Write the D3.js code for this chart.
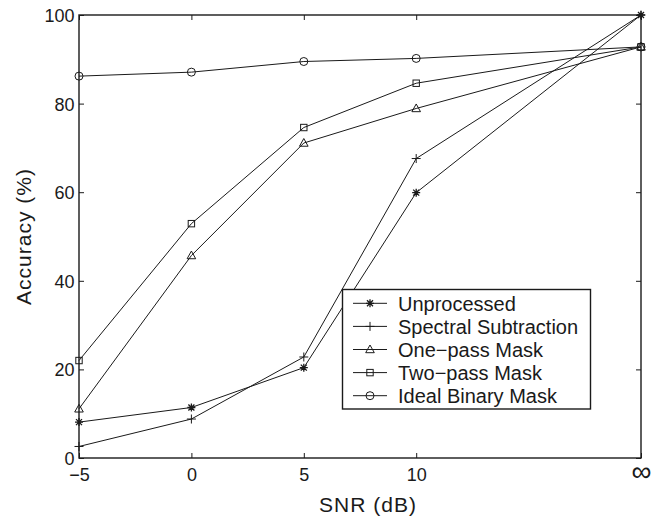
<!DOCTYPE html>
<html><head><meta charset="utf-8">
<script src="https://cdn.jsdelivr.net/npm/d3@7"></script>
<style>html,body{margin:0;padding:0;background:#fff;}svg{display:block;font-family:"Liberation Sans",Arial,Helvetica,sans-serif;}</style>
</head><body>
<svg id="chart" width="654" height="518"></svg>
<script>
// x positions: -5, 0, 5, 10, and "infinity" placed at 20
const snrValues = [-5, 0, 5, 10, 20];
const xTickLabels = ["\u22125", "0", "5", "10", "\u221E"];
const yTicks = [0, 20, 40, 60, 80, 100];
const seriesNames = ["Unprocessed", "Spectral Subtraction", "One\u2212pass Mask", "Two\u2212pass Mask", "Ideal Binary Mask"];
const seriesMarkers = ["star", "plus", "triangle", "square", "circle"];
const unprocessed = [8.1, 11.4, 20.4, 59.9, 100];
const spectralSubtraction = [2.6, 8.8, 22.8, 67.6, 100];
const onePassMask = [11.1, 45.7, 71.1, 78.9, 92.8];
const twoPassMask = [22.0, 52.9, 74.6, 84.6, 92.8];
const idealBinaryMask = [86.2, 87.1, 89.5, 90.2, 92.8];
const allSeries = [unprocessed, spectralSubtraction, onePassMask, twoPassMask, idealBinaryMask];

const svg = d3.select("#chart");
const L = 79, R = 641, T = 15, B = 458;
const x = d3.scaleLinear().domain([-5, 20]).range([L, R]);
const y = d3.scaleLinear().domain([0, 100]).range([B, T]);
const ink = "#1a1a1a";

// axes box
svg.append("rect").attr("x", L).attr("y", T).attr("width", R - L).attr("height", B - T)
  .attr("fill", "none").attr("stroke", ink).attr("stroke-width", 1.4);

const tickLen = 5;
const fmtX = (d, i) => xTickLabels[i];
const gB = svg.append("g").attr("transform", `translate(0,${B})`)
  .call(d3.axisBottom(x).tickValues(snrValues).tickFormat(fmtX).tickSizeInner(-tickLen).tickSizeOuter(0).tickPadding(10));
const gT = svg.append("g").attr("transform", `translate(0,${T})`)
  .call(d3.axisTop(x).tickValues(snrValues).tickFormat("").tickSizeInner(-tickLen).tickSizeOuter(0));
const gL = svg.append("g").attr("transform", `translate(${L},0)`)
  .call(d3.axisLeft(y).tickValues(yTicks).tickSizeInner(-tickLen).tickSizeOuter(0).tickPadding(4.5));
const gR = svg.append("g").attr("transform", `translate(${R},0)`)
  .call(d3.axisRight(y).tickValues(yTicks).tickFormat("").tickSizeInner(-tickLen).tickSizeOuter(0));
[gB, gT, gL, gR].forEach(g => {
  g.select(".domain").remove();
  g.selectAll("line").attr("stroke", ink).attr("stroke-width", 1);
  g.selectAll("text").attr("fill", ink).style("font-size", "18px").style("font-family", '"Liberation Sans",Arial,sans-serif');
});
gL.selectAll("text").attr("dy", "0.36em");
gB.selectAll("text").attr("dy", "0.72em");
gB.selectAll(".tick").filter(d => d === 20).select("text").style("font-size", "28px").attr("dy", "13.4");

// axis labels
svg.append("text").attr("x", 368).attr("y", 511.5).attr("text-anchor", "middle")
  .attr("fill", ink).style("font-size", "21px").style("letter-spacing", "1px").text("SNR (dB)");
svg.append("text").attr("transform", `translate(31,${(T + B) / 2}) rotate(-90)`).attr("text-anchor", "middle")
  .attr("fill", ink).style("font-size", "21px").style("letter-spacing", "1px").text("Accuracy (%)");

function drawMarker(g, type, cx, cy) {
  const s = g.append("g").attr("transform", `translate(${cx},${cy})`)
    .attr("fill", "none").attr("stroke", ink).attr("stroke-width", 1);
  if (type === "circle") s.append("circle").attr("r", 4);
  else if (type === "square") s.append("rect").attr("x", -3.2).attr("y", -3.2).attr("width", 6.4).attr("height", 6.4);
  else if (type === "triangle") s.append("path").attr("d", "M0,-4.5L4.3,3.2L-4.3,3.2Z");
  else if (type === "plus") s.append("path").attr("d", "M-4.5,0H4.5M0,-4.5V4.5");
  else if (type === "star") s.append("path").attr("d", "M-4,0H4M0,-4V4M-3,-3L3,3M-3,3L3,-3").attr("stroke-width", 1.3);
}

const line = d3.line().x((d, i) => x(snrValues[i])).y(d => y(d));
allSeries.forEach((vals, k) => {
  const g = svg.append("g");
  g.append("path").datum(vals).attr("d", line).attr("fill", "none").attr("stroke", ink).attr("stroke-width", 1);
  vals.forEach((v, i) => drawMarker(g, seriesMarkers[k], x(snrValues[i]), y(v)));
});

// legend
const lg = svg.append("g");
lg.append("rect").attr("x", 342.5).attr("y", 289.5).attr("width", 248).attr("height", 119.5)
  .attr("fill", "#fff").attr("stroke", ink).attr("stroke-width", 1.4);
seriesNames.forEach((name, k) => {
  const cy = 303.3 + k * 23.1;
  lg.append("line").attr("x1", 353).attr("x2", 387).attr("y1", cy).attr("y2", cy).attr("stroke", ink).attr("stroke-width", 1);
  drawMarker(lg, seriesMarkers[k], 370, cy);
  lg.append("text").attr("x", 398).attr("y", cy).attr("dy", "0.36em").attr("fill", ink)
    .style("font-size", "20px").text(name);
});
</script>
</body></html>
